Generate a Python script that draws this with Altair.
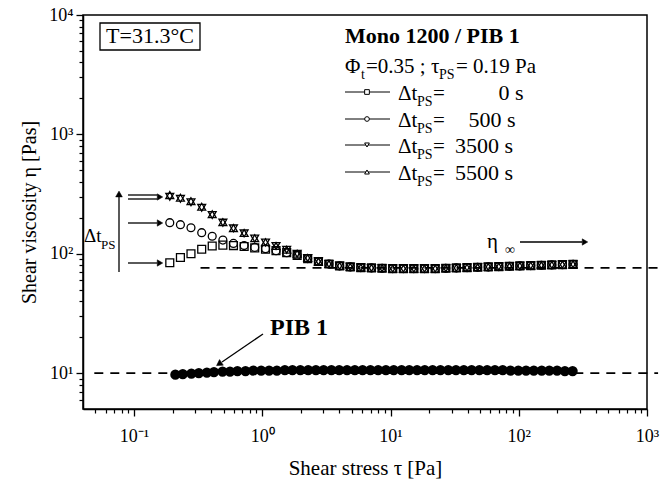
import altair as alt
import pandas as pd

# ---------------- data ----------------
tau_mono = [0.19, 0.23, 0.278, 0.337, 0.407, 0.493, 0.596, 0.722, 0.873, 1.06,
            1.28, 1.55, 1.87, 2.26, 2.74, 3.31, 4.01, 4.85, 5.87, 7.1,
            8.59, 10.4, 12.6, 15.2, 18.4, 22.3, 27.0, 32.6, 39.5, 47.8,
            57.8, 69.9, 84.6, 102, 124, 150, 181, 219, 265]
eta_0s = [84, 93, 100, 109, 116, 118, 117, 115, 112, 109,
          106, 102, 97, 91, 86, 82, 79, 77.5, 76.5, 76,
          75.5, 75, 75, 75, 75, 75, 75.5, 76, 76.5, 77,
          77.5, 78, 78.5, 79, 79.5, 80, 80.5, 81, 81.5]
eta_500s = [182, 175, 165, 150, 140, 130, 122, 117, 113, 110,
            106, 102, 97, 91, 86, 82, 79, 77.5, 76.5, 76,
            75.5, 75, 75, 75, 75, 75, 75.5, 76, 76.5, 77,
            77.5, 78, 78.5, 79, 79.5, 80, 80.5, 81, 81.5]
eta_3500s = [300, 288, 270, 243, 211, 182, 163, 148, 134, 124,
             116, 108, 100, 92, 86, 82, 79, 77.5, 76.5, 76,
             75.5, 75, 75, 75, 75, 75, 75.5, 76, 76.5, 77,
             77.5, 78, 78.5, 79, 79.5, 80, 80.5, 81, 81.5]
eta_5500s = [310, 295, 276, 248, 214, 184, 164, 149, 135, 125,
             116, 108, 100, 92, 86, 82, 79, 77.5, 76.5, 76,
             75.5, 75, 75, 75, 75, 75, 75.5, 76, 76.5, 77,
             77.5, 78, 78.5, 79, 79.5, 80, 80.5, 81, 81.5]
series_names = ["0 s", "500 s", "3500 s", "5500 s"]
series_shapes = ["square", "circle", "triangle-down", "triangle-up"]

tau_pib = [0.21, 0.24, 0.28, 0.32, 0.37, 0.42, 0.49, 0.56, 0.64, 0.74,
           0.85, 0.98, 1.13, 1.3, 1.5, 1.72, 1.98, 2.28, 2.62, 3.01,
           3.46, 3.98, 4.58, 5.27, 6.06, 6.97, 8.01, 9.21, 10.6, 12.2,
           14.0, 16.1, 18.5, 21.3, 24.5, 28.2, 32.4, 37.3, 42.9, 49.3,
           56.7, 65.2, 75.0, 86.2, 99.2, 114, 131, 151, 173, 199,
           229, 263]
eta_pib = [9.7, 9.8, 9.9, 10.0, 10.1, 10.2, 10.3, 10.3, 10.4, 10.4,
           10.5, 10.5, 10.5, 10.5, 10.6, 10.6, 10.6, 10.6, 10.6, 10.6,
           10.6, 10.6, 10.6, 10.6, 10.6, 10.6, 10.6, 10.6, 10.6, 10.6,
           10.6, 10.6, 10.6, 10.6, 10.6, 10.6, 10.6, 10.6, 10.6, 10.6,
           10.6, 10.6, 10.6, 10.5, 10.5, 10.5, 10.5, 10.5, 10.5, 10.5,
           10.4, 10.4]

eta_inf_level = 76
eta_inf_span = [0.33, 1220]
pib_level = 10
pib_span = [0.049, 1220]

x_major = [0.1, 1, 10, 100, 1000]
x_minor = [0.05, 0.06, 0.07, 0.08, 0.09,
           0.2, 0.3, 0.4, 0.5, 0.6, 0.7, 0.8, 0.9,
           2, 3, 4, 5, 6, 7, 8, 9,
           20, 30, 40, 50, 60, 70, 80, 90,
           200, 300, 400, 500, 600, 700, 800, 900]
y_major = [10, 100, 1000, 10000]
y_minor = [6, 7, 8, 9,
           20, 30, 40, 50, 60, 70, 80, 90,
           200, 300, 400, 500, 600, 700, 800, 900,
           2000, 3000, 4000, 5000, 6000, 7000, 8000, 9000]

# ---------------- layout ----------------
W, H = 564, 394
OX, OY = 83, 15          # plot origin in page pixels
SERIF = "Liberation Serif"

xs = alt.Scale(type="log", domain=[0.04, 1000], nice=False)
ys = alt.Scale(type="log", domain=[5, 10000], nice=False)

mono_rows = []
for name, vals in zip(series_names, [eta_0s, eta_500s, eta_3500s, eta_5500s]):
    for t, e in zip(tau_mono, vals):
        mono_rows.append({"tau": t, "eta": e, "series": name})
mono_df = pd.DataFrame(mono_rows)
pib_df = pd.DataFrame({"tau": tau_pib, "eta": eta_pib})

x_lab = ("datum.value == 0.1 ? '10⁻¹' : datum.value == 1 ? '10⁰' : "
         "datum.value == 10 ? '10¹' : datum.value == 100 ? '10²' : '10³'")
y_lab = ("datum.value == 10 ? '10¹' : datum.value == 100 ? '10²' : "
         "datum.value == 1000 ? '10³' : '10⁴'")

ax_common = dict(grid=False, domainColor="black", domainWidth=1.5, tickColor="black",
                 tickWidth=1.3, labelFont=SERIF, labelFontSize=18, labelColor="black",
                 labelOverlap=False, labelFlush=False)

x_axis_major = alt.Axis(orient="bottom", values=x_major, labelExpr=x_lab, tickSize=7,
                        labelPadding=11, title="Shear stress τ [Pa]", titleFont=SERIF,
                        titleFontSize=21, titleFontWeight="normal", titleColor="black",
                        titleBaseline="alphabetic", titleY=65, **ax_common)
y_axis_major = alt.Axis(orient="left", values=y_major, labelExpr=y_lab, tickSize=7,
                        labelPadding=3, title="Shear viscosity η [Pas]", titleFont=SERIF,
                        titleFontSize=20, titleFontWeight="normal", titleColor="black",
                        titleBaseline="alphabetic", titleX=-48, titleY=H / 2,
                        titleAngle=270, **ax_common)
x_axis_minor = alt.Axis(orient="bottom", values=x_minor, labels=False, tickSize=4,
                        domain=False, title=None, grid=False, tickColor="black", tickWidth=1.2)
y_axis_minor = alt.Axis(orient="left", values=y_minor, labels=False, tickSize=4,
                        domain=False, title=None, grid=False, tickColor="black", tickWidth=1.2)

mono = alt.Chart(mono_df).mark_point(filled=False, stroke="black", strokeWidth=1.3, size=62,
                                     opacity=1).encode(
    x=alt.X("tau:Q", scale=xs, axis=x_axis_major),
    y=alt.Y("eta:Q", scale=ys, axis=y_axis_major),
    shape=alt.Shape("series:N", scale=alt.Scale(domain=series_names, range=series_shapes),
                    legend=None),
)

pib = alt.Chart(pib_df).mark_point(filled=True, fill="black", stroke="black", size=68,
                                   opacity=1, shape="circle").encode(
    x=alt.X("tau:Q", scale=xs, axis=x_axis_minor),
    y=alt.Y("eta:Q", scale=ys, axis=y_axis_minor),
)

dash_df = pd.DataFrame({
    "tau": eta_inf_span + pib_span,
    "eta": [eta_inf_level, eta_inf_level, pib_level, pib_level],
    "line": ["inf", "inf", "pib", "pib"],
})
dashes = alt.Chart(dash_df).mark_line(color="black", strokeWidth=1.7, strokeDash=[9, 7],
                                      clip=False).encode(
    x=alt.X("tau:Q", scale=xs, axis=None),
    y=alt.Y("eta:Q", scale=ys, axis=None),
    detail="line:N",
)

one = alt.Data(values=[{"a": 1}])


def px(x):
    return x - OX


def py(y):
    return y - OY


def text(s, x, y, size=21, weight="normal", align="left", baseline="alphabetic"):
    return alt.Chart(one).mark_text(text=s, font=SERIF, fontSize=size, fontWeight=weight,
                                    color="black", align=align, baseline=baseline).encode(
        x=alt.value(px(x)), y=alt.value(py(y)))


def seg(x1, y1, x2, y2, w=1.3):
    return alt.Chart(one).mark_rule(color="black", strokeWidth=w).encode(
        x=alt.value(px(x1)), y=alt.value(py(y1)), x2=alt.value(px(x2)), y2=alt.value(py(y2)))


def head(x, y, angle, size=40):
    return alt.Chart(one).mark_point(shape="triangle-right", filled=True, fill="black",
                                     stroke="black", strokeWidth=0.5, size=size, angle=angle,
                                     opacity=1).encode(
        x=alt.value(px(x)), y=alt.value(py(y)))


def legend_marker(x, y, shape):
    return alt.Chart(one).mark_point(shape=shape, filled=True, fill="white", stroke="black",
                                     strokeWidth=1, size=22, opacity=1).encode(
        x=alt.value(px(x)), y=alt.value(py(y)))


layers = [dashes, mono, pib]

# temperature box
layers.append(alt.Chart(one).mark_rect(fill="white", stroke="black", strokeWidth=1.3).encode(
    x=alt.value(px(100)), x2=alt.value(px(200)), y=alt.value(py(23)), y2=alt.value(py(50))))
layers.append(text("T=31.3°C", 150, 43, size=22, align="center"))

# title block
layers.append(text("Mono 1200 / PIB 1", 345, 43, size=22, weight="bold"))
layers.append(text("Φ", 345, 73, size=21))
layers.append(text("t", 361, 79, size=14))
layers.append(text("=0.35 ; τ", 366, 73, size=21))
layers.append(text("PS", 439, 79, size=14))
layers.append(text("= 0.19 Pa", 456, 73, size=21))

# legend rows
row_base = [100, 127, 153, 180]
row_val_center = [511, 492, 484, 484]
for name, shape, yb, vc in zip(series_names, series_shapes, row_base, row_val_center):
    yl = yb - 8
    layers.append(seg(345, yl, 390, yl, w=1))
    layers.append(legend_marker(367, yl, shape))
    layers.append(text("Δt", 398, yb, size=21))
    layers.append(text("PS", 417, yb + 6, size=14))
    layers.append(text("=", 433, yb, size=21))
    layers.append(text(name, vc, yb, size=22, align="center"))

# delta t_PS arrows on the left
layers.append(text("Δt", 84, 242, size=19))
layers.append(text("PS", 101, 249, size=13))
layers.append(seg(119, 272, 119, 197))
layers.append(head(119, 194, 270, size=45))
for yy in [195, 199, 223, 263]:
    layers.append(seg(128, yy, 157, yy))
for yy in [197, 223, 263]:
    layers.append(head(160, yy, 0, size=40))

# eta infinity
layers.append(text("η", 487, 248, size=21))
layers.append(text("∞", 505, 254, size=14))
layers.append(seg(520, 242, 582, 242))
layers.append(head(585, 242, 0, size=40))

# PIB 1 label
layers.append(text("PIB 1", 299, 335, size=24, weight="bold", align="center"))
layers.append(seg(263, 334, 222, 362))
layers.append(head(219, 364, 146, size=45))

chart = alt.layer(*layers).resolve_axis(x="independent", y="independent").properties(
    width=W, height=H,
    autosize=alt.AutoSizeParams(type="none"),
    padding={"left": OX - 8, "top": OY - 8, "right": 670 - 8 - OX - W, "bottom": 487 - 8 - OY - H},
).configure_view(stroke="black", strokeWidth=1.5)

chart.save("out.html", embed_options={"renderer": "svg", "actions": False})
